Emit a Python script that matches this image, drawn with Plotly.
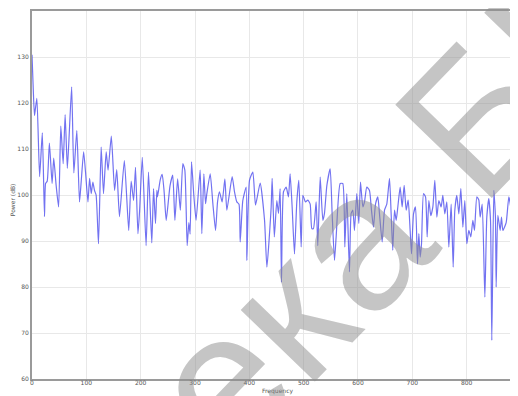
import plotly.graph_objects as go

freq = [0, 2, 4.5, 6, 9, 14, 19, 23, 25, 28, 32, 37, 40, 44.5, 49, 53, 57.4, 61, 65, 68,
        73, 77, 82.5, 87.4, 90.5, 95, 98.5, 103, 106, 109, 112, 115, 118, 122.4, 127.3, 131.6,
        136.5, 140, 146, 152, 156, 161, 170, 178, 182.5, 187, 190.5, 195, 198, 203, 210,
        214.4, 220.5, 223.7, 227.3, 229.8, 231, 236, 239.6, 243, 247, 254, 259, 263, 268,
        273, 277.6, 281.3, 285.6, 288.7, 291, 293.6, 297.9, 302, 309.5, 312.6, 316.3, 319.4,
        321.8, 328, 332.9, 337.8, 341.5, 345, 350, 355, 358.6, 368.4, 372.7, 377, 381, 383.2,
        388, 394.2, 395.5, 400.3, 406.5, 411.4, 420, 428, 432.3, 440.2, 442, 446, 450.6,
        453.7, 456.7, 459.2, 462.9, 467.8, 472, 475.1, 478.8, 483.1, 487.4, 491.1, 495.4,
        498.5, 503.4, 507.7, 512, 515, 518, 523, 526, 530.4, 535.3, 538.3, 542.6, 548.8,
        552.4, 556.7, 559.8, 567.2, 572, 575.8, 579.4, 584.3, 587.4, 590.5, 593.5, 597.8,
        601.5, 604.6, 608.9, 612, 616.2, 621.1, 624.8, 628.5, 632.2, 636.5, 639.5, 644.5,
        648.8, 653, 658, 661, 664, 667.2, 670.3, 673.3, 677.6, 681.3, 685, 688.7, 692.4,
        696, 698.5, 702.2, 705.9, 709.5, 712, 714.4, 716.9, 720.6, 724.3, 727.3, 730.4, 734,
        737.8, 741.4, 745.1, 748.8, 753, 756.2, 759.8, 763.5, 767.2, 771.5, 775.2, 778.2,
        781.9, 785.6, 789.3, 793, 796.6, 800.3, 804, 807.7, 811.4, 814.4, 818.7, 822.4,
        824.9, 828.6, 833.5, 837.1, 840.8, 843.9, 846.3, 850, 853, 854.3, 857.4, 861.7,
        864.1, 866.6, 872.7, 877.6, 881.9, 885]

power = [130.5, 124, 117.3, 118.5, 121, 104, 113.5, 95.3, 102.5, 103, 111.3, 102.5, 108, 102,
         97.4, 115, 106.8, 117.5, 105.8, 112, 123.5, 104.8, 114, 98.5, 102.8, 109.4, 105, 98.5,
         103.6, 100.3, 102.8, 101, 100, 89.4, 110.4, 100.3, 109.4, 105.4, 112.8, 101, 105.5,
         95.3, 107.5, 92.3, 103, 98.8, 106, 91.6, 96.5, 108.2, 89, 105, 89.6, 101.4, 93.8, 101,
         99.6, 103.3, 104.5, 101, 94.5, 102, 104.3, 94.5, 103.5, 96.7, 106.8, 105.4, 89, 94,
         91.5, 107.2, 99.8, 94.5, 105.4, 91.6, 104.6, 98.1, 100.3, 104.6, 98.1, 92.3, 98.5,
         100.7, 98.5, 103.5, 96.7, 104, 100.7, 98.5, 98, 89.8, 98.8, 101.7, 85.8, 103.2, 105,
         97.8, 102.6, 94.5, 84.3, 97.4, 103.6, 90.9, 98.8, 96, 101.4, 81, 100.7, 101.7, 99.6,
         104.6, 97.4, 87.2, 98.5, 103.2, 88.7, 99.9, 98.5, 98.9, 98, 92.7, 92.7, 98.5, 89,
         103.9, 94.5, 96, 102, 105.7, 96, 85.8, 90.9, 102.5, 102.5, 88.7, 100.3, 83.3, 96,
         96.7, 92.3, 100.3, 93.8, 102.8, 97.4, 98.5, 101.7, 101, 96.7, 93, 98, 99.6, 96, 89.8,
         96.7, 98, 103.6, 96, 88, 96.7, 94.5, 97.4, 101.7, 97.4, 102.1, 96.7, 98.9, 92.3,
         87.2, 95.9, 97.4, 85, 91.6, 86.5, 89.4, 100.3, 99.6, 90.9, 98.8, 95.5, 97.4, 103.2,
         95.2, 98.8, 97.4, 99.9, 95.9, 98.5, 88.7, 98, 84.3, 96.7, 99.9, 95.9, 101.4, 93, 98.8,
         89.4, 92.3, 90.9, 94.5, 92.3, 99.6, 98.9, 95.2, 98, 77.8, 95.2, 99.2, 94.5, 68.4, 101,
         95.2, 80, 95.6, 92.3, 95.2, 92.3, 94, 99.6, 96.7, 90.5]

x_ticks = [0, 100, 200, 300, 400, 500, 600, 700, 800, 900]
y_ticks = [60, 70, 80, 90, 100, 110, 120, 130, 140]

fig = go.Figure()
fig.add_trace(go.Scatter(x=freq, y=power, mode="lines",
                         line=dict(color="rgba(60,60,235,0.72)", width=1.2, shape="spline", smoothing=0.5),
                         showlegend=False))

axis_font = dict(family="DejaVu Sans", size=6, color="#555555")
# the page body has an 8px default margin, so the figure is 8px smaller and offset
fig.update_layout(
    width=510, height=388,
    margin=dict(l=24, r=0, t=3, b=17),
    paper_bgcolor="white", plot_bgcolor="white",
    xaxis=dict(range=[0, 894.5], tickvals=x_ticks, ticktext=[str(v) for v in x_ticks],
               showgrid=True, gridcolor="#e8e8e8", gridwidth=1, zeroline=False,
               showline=True, linecolor="#9a9a9a", linewidth=2, mirror=True,
               ticks="", tickfont=axis_font, automargin=False, ticklabelstandoff=-3),
    yaxis=dict(range=[60, 140], tickvals=y_ticks, ticktext=[str(v) for v in y_ticks],
               showgrid=True, gridcolor="#e8e8e8", gridwidth=1, zeroline=False,
               showline=True, linecolor="#9a9a9a", linewidth=2, ticks="", tickfont=axis_font,
               automargin=False, ticklabelstandoff=0),
    annotations=[
        dict(text="Frequency", xref="paper", yref="paper", x=0.505, y=-0.033,
             xanchor="center", yanchor="middle", showarrow=False, font=axis_font),
        dict(text="Power (dB)", xref="paper", yref="paper", x=-0.041, y=0.486,
             xanchor="center", yanchor="middle", textangle=-90, showarrow=False, font=axis_font),
        dict(text="Библиотека БГУИР", xref="paper", yref="paper",
             x=0.476, y=0.113, xanchor="center", yanchor="middle", showarrow=False, textangle=-46,
             font=dict(family="Liberation Sans", size=195, color="rgba(140,140,140,0.5)")),
    ]
)

fig.write_html("out.html")
